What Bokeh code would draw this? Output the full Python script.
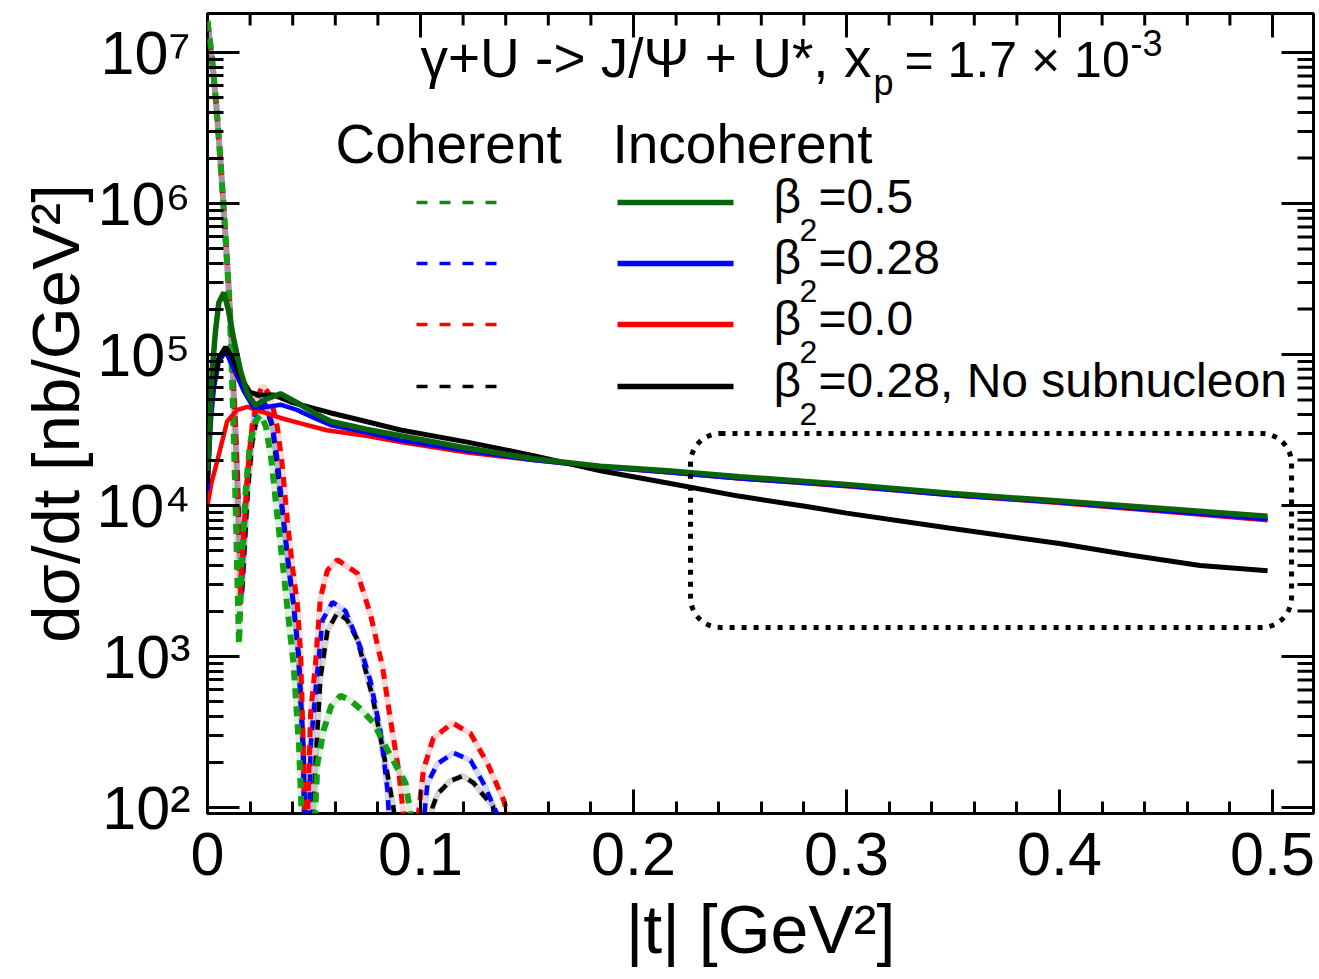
from bokeh.plotting import figure
from bokeh.models import Range1d, FixedTicker, Label, BoxAnnotation
from bokeh.embed import file_html
from bokeh.resources import INLINE

# ---------------- data ----------------
# coherent (dashed)
t_coh_05 = [0.0, 0.002, 0.004, 0.006, 0.008, 0.010, 0.011, 0.012, 0.013, 0.014, 0.0148, 0.016, 0.018, 0.020,
            0.0225, 0.025, 0.0275, 0.030, 0.0328, 0.0355, 0.0375, 0.0404, 0.043, 0.0455, 0.048, 0.0505, 0.0516,
            0.0545, 0.058, 0.0624, 0.067, 0.072, 0.078, 0.083, 0.0873, 0.093, 0.096, 0.099]
coh_05 = [1.62e7, 9.5e6, 4.8e6, 2.0e6, 7.6e5, 2.6e5, 1.2e5, 4.2e4, 1.3e4, 3.5e3, 1.2e3, 4.0e3, 1.3e4, 2.6e4,
          3.6e4, 4.0e4, 3.3e4, 2.0e4, 8.5e3, 3.9e3, 2.1e3, 890, 250, 30, 30, 90, 195,
          324, 468, 550, 513, 447, 363, 263, 204, 145, 79, 20]

t_coh_028 = [0.0, 0.002, 0.004, 0.006, 0.008, 0.010, 0.011, 0.012, 0.013, 0.014, 0.0148, 0.0158, 0.017, 0.0185,
             0.0205, 0.023, 0.0255, 0.028, 0.0305, 0.033, 0.0357, 0.038, 0.0404, 0.0427, 0.0448, 0.046, 0.0475,
             0.0484, 0.0507, 0.054, 0.0587, 0.0648, 0.0718, 0.0765, 0.0812, 0.0845, 0.0865, 0.094, 0.1005,
             0.1033, 0.108, 0.1155, 0.1235, 0.130, 0.136, 0.141]
coh_028 = [1.6e7, 9.3e6, 4.7e6, 2.0e6, 7.6e5, 2.7e5, 1.45e5, 7.0e4, 3.4e4, 1.5e4, 6.0e3, 2.5e3, 5.5e3, 1.4e4,
           2.9e4, 4.5e4, 5.0e4, 4.5e4, 3.4e4, 1.9e4, 8.0e3, 4.0e3, 2.2e3, 1.0e3, 250, 30, 60,
           250, 590, 1740, 2290, 2000, 1150, 690, 320, 130, 40, 10, 60,
           145, 195, 230, 205, 141, 90, 25]

t_coh_00 = [0.0, 0.002, 0.004, 0.006, 0.008, 0.010, 0.011, 0.012, 0.013, 0.014, 0.0152, 0.017, 0.019, 0.021,
            0.0235, 0.026, 0.0285, 0.0305, 0.0328, 0.035, 0.0375, 0.040, 0.0422, 0.0437, 0.0448, 0.0462, 0.0475,
            0.0484, 0.0507, 0.053, 0.0563, 0.061, 0.0704, 0.0765, 0.0822, 0.0859, 0.0897, 0.092, 0.0955, 0.099,
            0.1014, 0.106, 0.115, 0.1235, 0.1315, 0.139, 0.141, 0.145]
coh_00 = [1.6e7, 9.4e6, 4.8e6, 2.0e6, 7.8e5, 2.8e5, 1.5e5, 7.3e4, 3.4e4, 1.4e4, 2.2e3, 6.5e3, 1.7e4, 3.4e4,
          5.3e4, 6.2e4, 5.6e4, 4.6e4, 3.3e4, 1.9e4, 7.9e3, 3.8e3, 2.2e3, 1.05e3, 300, 40, 150,
          417, 890, 2450, 3720, 4370, 3550, 1900, 850, 380, 178, 90, 10, 90,
          178, 288, 363, 309, 195, 112, 90, 20]

t_coh_ns = [0.0, 0.002, 0.004, 0.006, 0.008, 0.010, 0.011, 0.012, 0.013, 0.014, 0.015, 0.0162, 0.0175, 0.019,
            0.021, 0.0235, 0.026, 0.028, 0.0305, 0.033, 0.0357, 0.038, 0.0404, 0.0427, 0.045, 0.0465, 0.0485,
            0.0497, 0.0507, 0.053, 0.0563, 0.061, 0.0655, 0.0704, 0.0775, 0.0836, 0.0873, 0.092, 0.097, 0.102,
            0.1056, 0.108, 0.114, 0.120, 0.125, 0.129, 0.134, 0.139]
coh_ns = [1.6e7, 9.3e6, 4.7e6, 2.0e6, 7.6e5, 2.7e5, 1.5e5, 7.5e4, 3.7e4, 1.7e4, 6.5e3, 2.6e3, 5.5e3, 1.3e4,
          2.6e4, 4.0e4, 4.5e4, 4.2e4, 3.3e4, 1.6e4, 7.9e3, 4.0e3, 2.2e3, 1.05e3, 250, 30, 40,
          100, 195, 720, 1480, 1950, 1750, 1290, 540, 195, 100, 25, 10, 30,
          100, 123, 150, 162, 145, 123, 102, 30]

# incoherent (solid)
t_inc_05 = [0.0, 0.0006, 0.0022, 0.0038, 0.0053, 0.0077, 0.0099, 0.0122, 0.0155, 0.0188, 0.0225, 0.028, 0.0343,
            0.042, 0.050, 0.058, 0.0745, 0.0906, 0.122, 0.153, 0.1845, 0.216, 0.25, 0.30, 0.35, 0.40, 0.45, 0.4977]
inc_05 = [1.7e4, 2.3e4, 7.8e4, 1.45e5, 2.2e5, 2.57e5, 1.95e5, 1.29e5, 7.8e4, 5.5e4, 4.6e4, 5.1e4, 5.5e4,
          4.8e4, 4.1e4, 3.6e4, 3.2e4, 2.9e4, 2.4e4, 2.04e4, 1.82e4, 1.70e4, 1.55e4, 1.38e4, 1.20e4, 1.07e4, 9.5e3, 8.5e3]

t_inc_028 = [0.0, 0.0015, 0.003, 0.0053, 0.0085, 0.0122, 0.017, 0.0216, 0.028, 0.0343, 0.042, 0.050, 0.058,
             0.0745, 0.0906, 0.122, 0.153, 0.1845, 0.216, 0.25, 0.30, 0.35, 0.40, 0.45, 0.4977]
inc_028 = [1.26e4, 3.5e4, 6.0e4, 8.9e4, 1.05e5, 8.1e4, 5.75e4, 4.45e4, 4.5e4, 4.65e4, 4.3e4, 3.8e4, 3.4e4,
           3.05e4, 2.7e4, 2.3e4, 2.0e4, 1.8e4, 1.66e4, 1.51e4, 1.35e4, 1.17e4, 1.05e4, 9.2e3, 8.1e3]

t_inc_00 = [0.0, 0.0018, 0.0047, 0.0092, 0.014, 0.0188, 0.025, 0.0343, 0.0437, 0.056, 0.0745, 0.0906, 0.122,
            0.153, 0.1845, 0.216, 0.25, 0.30, 0.35, 0.40, 0.45, 0.4977]
inc_00 = [1.0e4, 1.4e4, 2.0e4, 3.6e4, 4.3e4, 4.5e4, 4.2e4, 3.8e4, 3.5e4, 3.15e4, 2.9e4, 2.63e4, 2.24e4,
          2.0e4, 1.8e4, 1.66e4, 1.51e4, 1.34e4, 1.17e4, 1.04e4, 9.1e3, 8.0e3]

t_inc_ns = [0.0, 0.0015, 0.003, 0.0053, 0.0085, 0.0117, 0.0155, 0.020, 0.024, 0.031, 0.040, 0.050, 0.058,
            0.0745, 0.0906, 0.122, 0.153, 0.1845, 0.216, 0.25, 0.282, 0.30, 0.348, 0.40, 0.433, 0.466, 0.4977]
inc_ns = [1.4e4, 5.0e4, 6.8e4, 9.5e4, 1.12e5, 9.5e4, 7.1e4, 5.6e4, 5.4e4, 5.4e4, 4.8e4, 4.4e4, 4.1e4,
          3.6e4, 3.16e4, 2.63e4, 2.14e4, 1.70e4, 1.41e4, 1.15e4, 9.8e3, 8.9e3, 7.1e3, 5.6e3, 4.7e3, 4.0e3, 3.7e3]

legend_values = ["=0.5", "=0.28", "=0.0", "=0.28, No subnucleon"]
x_ticks = [0, 0.1, 0.2, 0.3, 0.4, 0.5]
x_tick_labels = ["0", "0.1", "0.2", "0.3", "0.4", "0.5"]
y_exponents = [2, 3, 4, 5, 6, 7]
y_tick_labels = ["10²", "10³", "10⁴", "10⁵", "10⁶", "10⁷"]

for a, b in [(t_coh_05, coh_05), (t_coh_028, coh_028), (t_coh_00, coh_00), (t_coh_ns, coh_ns),
             (t_inc_05, inc_05), (t_inc_028, inc_028), (t_inc_00, inc_00), (t_inc_ns, inc_ns)]:
    assert len(a) == len(b), (len(a), len(b))

# ---------------- geometry ----------------
W, H = 1319, 979
FL, FR, FT, FB = 207, 1313, 13, 813
X0PX, XPX = 207.0, 2130.0
Y2PX, YDEC = 807.0, 151.0


def px2x(px):
    return (px - X0PX) / XPX


def px2y(py):
    return 10 ** (2 + (Y2PX - py) / YDEC)


FONT = "Liberation Sans"
GREEN, GREEN_D, GREEN_L = "#0a640a", "#14a014", "#1e7e1e"
BLUE, RED, BLACK = "#0000ff", "#ff0000", "#000000"

XMIN, XMAX = px2x(FL), px2x(FR)
YMIN, YMAX = px2y(FB), px2y(FT)

p = figure(width=W, height=H, output_backend="svg", toolbar_location=None, y_axis_type="log",
           x_range=Range1d(XMIN, XMAX), y_range=Range1d(YMIN, YMAX),
           min_border_left=FL, min_border_right=W - FR, min_border_top=FT, min_border_bottom=H - FB)
p.background_fill_color = "white"
p.border_fill_color = "white"
p.xgrid.visible = False
p.ygrid.visible = False
p.outline_line_color = "black"
p.outline_line_width = 3

minor_x = [round(0.02 * i, 2) for i in range(0, 26) if i % 5 != 0]
major_y = [10.0 ** e for e in y_exponents]
minor_y = [m * 10.0 ** e for e in range(1, 8) for m in range(2, 10) if YMIN < m * 10.0 ** e < YMAX]
xticker = FixedTicker(ticks=x_ticks, minor_ticks=minor_x)
yticker = FixedTicker(ticks=major_y, minor_ticks=minor_y)


def style_axis(ax, major, minor):
    ax.major_tick_in = major
    ax.major_tick_out = 0
    ax.minor_tick_in = minor
    ax.minor_tick_out = 0
    ax.major_tick_line_width = 3
    ax.minor_tick_line_width = 3
    ax.major_tick_line_color = "black"
    ax.minor_tick_line_color = "black"
    ax.axis_line_color = None


xa = p.xaxis[0]
xa.ticker = xticker
style_axis(xa, 24, 12)
xa.major_label_overrides = {v: s for v, s in zip(x_ticks, x_tick_labels)}
xa.major_label_text_font = FONT
xa.major_label_text_font_size = "61px"
xa.major_label_text_color = "black"
xa.major_label_standoff = 19
xa.axis_label = "|t| [GeV²]"
xa.axis_label_text_font = FONT
xa.axis_label_text_font_size = "68px"
xa.axis_label_text_font_style = "normal"
xa.axis_label_text_color = "black"
xa.axis_label_standoff = 13

ya = p.yaxis[0]
ya.ticker = yticker
style_axis(ya, 32, 16)
ya.major_label_overrides = {v: s for v, s in zip(major_y, y_tick_labels)}
ya.major_label_text_font = FONT
ya.major_label_text_font_size = "61px"
ya.major_label_text_color = "black"
ya.major_label_standoff = 17
ya.axis_label = "dσ/dt [nb/GeV²]"
ya.axis_label_text_font = FONT
ya.axis_label_text_font_size = "67px"
ya.axis_label_text_font_style = "normal"
ya.axis_label_text_color = "black"
ya.axis_label_standoff = 0

# ticks on the top and right frame edges (mirror of the bottom/left axes)
top_len_major, top_len_minor = px2y(FT + 24), px2y(FT + 12)
p.segment(x0=x_ticks, y0=[YMAX] * len(x_ticks), x1=x_ticks, y1=[top_len_major] * len(x_ticks),
          line_color="black", line_width=3)
p.segment(x0=minor_x, y0=[YMAX] * len(minor_x), x1=minor_x, y1=[top_len_minor] * len(minor_x),
          line_color="black", line_width=3)
p.segment(x0=[XMAX] * len(major_y), y0=major_y, x1=[px2x(FR - 32)] * len(major_y), y1=major_y,
          line_color="black", line_width=3)
p.segment(x0=[XMAX] * len(minor_y), y0=minor_y, x1=[px2x(FR - 16)] * len(minor_y), y1=minor_y,
          line_color="black", line_width=3)

# ---------------- curves ----------------
coh = [(t_coh_ns, coh_ns, BLACK, 4.5), (t_coh_028, coh_028, BLUE, 4.5),
       (t_coh_00, coh_00, RED, 5), (t_coh_05, coh_05, GREEN_D, 6)]
for t, v, c, w in coh:
    p.line(t, v, line_color=c, line_width=6, line_alpha=0.16)
for t, v, c, w in coh:
    p.line(t, v, line_color=c, line_width=w, line_dash="10 8")

inc = [(t_inc_00, inc_00, RED, 4.5), (t_inc_028, inc_028, BLUE, 4.5),
       (t_inc_ns, inc_ns, BLACK, 5), (t_inc_05, inc_05, GREEN, 5.5)]
for t, v, c, w in inc:
    p.line(t, v, line_color=c, line_width=w)

# ---------------- legend samples ----------------
row_c = [202, 263, 324, 386]
leg_colors = [(GREEN_L, GREEN), (BLUE, BLUE), (RED, RED), (BLACK, BLACK)]
for yc, (cd, cs) in zip(row_c, leg_colors):
    yy = px2y(yc)
    p.segment(x0=[px2x(416)], y0=[yy], x1=[px2x(497)], y1=[yy], line_color=cd, line_width=3.5,
              line_dash="11 12")
    p.segment(x0=[px2x(617)], y0=[yy], x1=[px2x(733)], y1=[yy], line_color=cs, line_width=5.5)


# ---------------- texts ----------------
BASE_SHIFT = 0.37   # measured: rendered baseline sits this many em below the anchor


def lab(text, xpx, ypx, size, align="left"):
    p.add_layout(Label(x=px2x(xpx), y=px2y(ypx - BASE_SHIFT * size), text=text, text_font=FONT,
                       text_font_size=f"{size}px", text_color="black", text_align=align,
                       text_baseline="alphabetic"))


lab("γ+U -> J/Ψ + U*, x", 420, 78, 55)
lab("p", 873, 95, 36)
lab("= 1.7 × 10", 904, 78, 50)
lab("-3", 1130, 56, 36)
lab("Coherent", 335, 164, 55)
lab("Incoherent", 612, 164, 55)
for yc, txt in zip(row_c, legend_values):
    lab("β", 773, yc + 12, 48)
    lab("2", 799, yc + 39, 32)
    lab(txt, 818, yc + 12, 48)

# dotted rounded box (added last)
p.add_layout(BoxAnnotation(left=px2x(690), right=px2x(1291), top=px2y(433), bottom=px2y(627),
                           fill_alpha=0, line_color="black", line_alpha=1.0, line_width=5,
                           line_dash="5 7", border_radius=30))

open("out.html", "w").write(file_html(p, INLINE))
